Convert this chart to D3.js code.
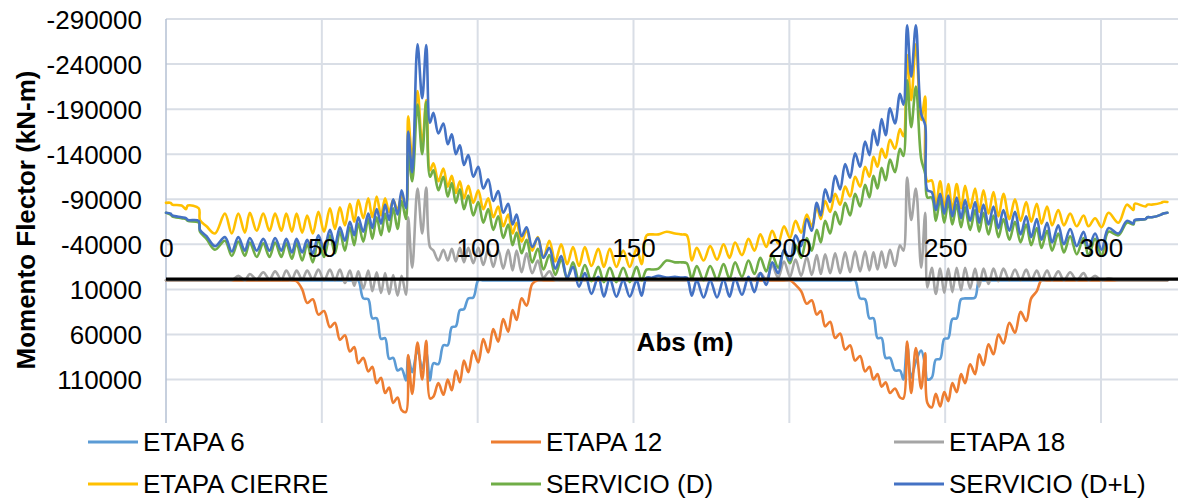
<!DOCTYPE html>
<html>
<head>
<meta charset="utf-8">
<script src="https://cdn.jsdelivr.net/npm/d3@7"></script>
<style>
  body { margin: 0; background: #ffffff; }
  svg text { font-family: "Liberation Sans", Arial, sans-serif; fill: #000; }
</style>
</head>
<body>
<svg id="chart" width="1182" height="500"></svg>
<script>
// Abscisa a lo largo del puente (m)
const abscisas = [
  0, 1.5, 2, 5, 6.4, 7, 10.5, 10.9, 13, 15.7,
  18.9, 21.1, 23.2, 25.3, 26.9, 29.1, 31.2, 33.2, 35, 37,
  38.6, 40.4, 41.9, 43.7, 45.3, 47.1, 48.9, 50.7, 52.6, 54.2,
  55.8, 57.4, 59, 60.4, 61.7, 63.3, 64.9, 66.2, 67.6, 69,
  70.3, 71.6, 72.9, 74.3, 75.6, 77, 77.7, 79, 80.7, 82.2,
  83.5, 84.7, 85.8, 87.4, 89, 90.4, 91.7, 93, 94.3, 95.6,
  97, 98.6, 100.2, 101.8, 103.4, 105, 106.6, 108.2, 109.8, 111.2,
  112.5, 114.1, 115.7, 117.5, 119.3, 121.1, 123, 124.9, 126.8, 128.7,
  130.6, 132.5, 134.4, 136.5, 138.7, 140.5, 142.4, 144.5, 146.7, 148.8,
  151, 152.6, 154.2, 156, 158, 160.65,
  163.3, 165.3, 167.1, 168.7, 170.3, 172.5, 174.6, 176.8, 178.9, 180.8,
  182.6, 184.8, 186.9, 188.8, 190.7, 192.6, 194.5, 196.4, 198.3, 200.2,
  202, 203.8, 205.6, 207.2, 208.8, 210.1, 211.5, 213.1, 214.7, 216.3,
  217.9, 219.5, 221.1, 222.7, 224.3, 225.7, 227, 228.3, 229.6, 230.9,
  232.3, 233.9, 235.5, 236.6, 237.8, 239.1, 240.6, 242.3, 243.6, 244.3,
  245.7, 247, 248.4, 249.7, 251, 252.3, 253.7, 255.1, 256.4, 258,
  259.6, 260.9, 262.3, 263.9, 265.5, 267.1, 268.7, 270.6, 272.4, 274.2,
  276, 277.6, 279.4, 280.9, 282.7, 284.3, 286.3, 288.1, 290.1, 292.2,
  294.4, 296, 298.1, 300.2, 302.4, 305.6, 308.3, 310.4, 310.8, 314.3,
  314.9, 316.3, 319.3, 319.8, 321.3
];

// Momento flector (kN-m) por etapa
const etapa6 = [
  0, 0, 0, 0, 0, 0, 0, 0, 0, 0,
  0, 0, 0, 0, 0, 0, 0, 0, 0, 0,
  0, 0, 0, 0, 0, 0, 0, 0, 0, 0,
  0, 0, 0, 0, 0, 20000, 21000, 42000, 42000, 65000,
  64000, 87000, 86000, 100000, 98000, 111000, 84000, 102000, 77000, 98000,
  80000, 111000, 92000, 93000, 72000, 72000, 52000, 51000, 33000, 32000,
  20000, 19000, 0, 0, 0, 0, 0, 0, 0, 0,
  0, 0, 0, 0, 0, 0, 0, 0, 0, 0,
  0, 0, 0, 0, 0, 0, 0, 0, 0, 0,
  0, 0, 0, 0, 0, 0,
  0, 0, 0, 0, 0, 0, 0, 0, 0, 0,
  0, 0, 0, 0, 0, 0, 0, 0, 0, 0,
  0, 0, 0, 0, 0, 0, 0, 0, 0, 0,
  0, 0, 0, 20000, 21000, 42000, 42000, 64000, 64000, 86000,
  86000, 100000, 100000, 110000, 72000, 108000, 90000, 78000, 95000, 110000,
  108000, 88000, 87000, 65000, 64000, 43000, 42000, 21000, 20000, 20000,
  19000, 0, 0, 0, 0, 0, 0, 0, 0, 0,
  0, 0, 0, 0, 0, 0, 0, 0, 0, 0,
  0, 0, 0, 0, 0, 0, 0, 0, 0, 0,
  0, 0, 0, 0, 0
];

const etapa12 = [
  0, 0, 0, 0, 0, 0, 0, 0, 0, 0,
  0, 0, 0, 0, 0, 0, 0, 0, 0, 0,
  0, 0, 1000, 10000, 25000, 21000, 38000, 34000, 52000, 47000,
  66000, 61000, 79000, 74000, 92000, 86000, 101000, 96000, 114000, 108000,
  125000, 119000, 136000, 130000, 144000, 146000, 83000, 126000, 69000, 110000,
  67000, 131000, 129000, 114000, 127000, 110000, 122000, 100000, 113000, 89000,
  102000, 78000, 91000, 65000, 80000, 54000, 68000, 43000, 57000, 33000,
  44000, 20000, 28000, 4000, 0, 0, 0, 0, 0, 0,
  0, 0, 0, 0, 0, 0, 0, 0, 0, 0,
  0, 0, 0, 0, 0, 0,
  0, 0, 0, 0, 0, 0, 0, 0, 0, 0,
  0, 0, 0, 0, 0, 0, 0, 0, 0, 0,
  5000, 12000, 26000, 22000, 38000, 34000, 51000, 46000, 64000, 59000,
  77000, 72000, 89000, 84000, 101000, 96000, 110000, 104000, 118000, 113000,
  125000, 120000, 130000, 131000, 68000, 125000, 75000, 120000, 81000, 136000,
  141000, 126000, 140000, 124000, 134000, 114000, 124000, 104000, 114000, 93000,
  104000, 82000, 94000, 71000, 82000, 60000, 70000, 47000, 58000, 35000,
  45000, 20000, 12000, 0, 0, 0, 0, 0, 0, 0,
  0, 0, 0, 0, 0, 0, 0, 0, 0, 0,
  0, 0, 0, 0, 0
];

const etapa18 = [
  0, 0, 0, 0, 0, 0, 0, 0, 0, 0,
  0, 0, -5000, 0, -7000, -1000, -9000, -1000, -10000, -1000,
  -11000, -1000, -11000, -1000, -11000, -1000, -12000, 0, -12000, 0,
  -12000, 3000, -11000, 6000, -10000, 9000, -11000, 12000, -9000, 14000,
  -8000, 15000, -6000, 17000, -5000, 16000, -70000, -14000, -102000, -52000,
  -103000, -37000, -33000, -22000, -34000, -22000, -35000, -21000, -36000, -20000,
  -36000, -19000, -36000, -17000, -35000, -15000, -34000, -13000, -34000, -11000,
  -33000, -9000, -30000, -8000, -22000, -3000, -10000, 0, 0, 0,
  0, 0, 0, 0, -3000, 0, 0, 0, 0, 0,
  0, 0, 0, 0, 0, 0,
  0, 0, 0, 0, 0, 0, 0, 0, 0, 0,
  0, 0, 0, 0, -8000, -1000, -16000, -3000, -21000, -4000,
  -23000, -5000, -26000, -6000, -28000, -7000, -29000, -8000, -30000, -8000,
  -31000, -9000, -32000, -10000, -32000, -11000, -31000, -12000, -32000, -14000,
  -34000, -16000, -39000, -33000, -114000, -67000, -102000, -14000, -75000, 8000,
  -14000, 15000, -13000, 14000, -13000, 13000, -14000, 11000, -14000, 9000,
  -13000, 7000, -13000, 4000, -13000, 1000, -13000, 0, -12000, 0,
  -12000, 0, -11000, 0, -11000, 0, -10000, 0, -9000, 0,
  -8000, 0, -5000, 0, -2000, 0, 0, 0, 0, 0,
  0, 0, 0, 0, 0
];

const etapaCierre = [
  -86000, -86000, -84000, -83000, -79000, -83000, -80000, -67000, -60000, -52000,
  -74000, -52000, -74000, -53000, -75000, -55000, -74000, -55000, -74000, -55000,
  -74000, -54000, -74000, -53000, -72000, -52000, -76000, -54000, -80000, -57000,
  -81000, -61000, -85000, -65000, -89000, -69000, -91000, -70000, -93000, -72000,
  -91000, -76000, -89000, -78000, -94000, -82000, -182000, -135000, -210000, -150000,
  -200000, -122000, -130000, -110000, -124000, -104000, -116000, -97000, -110000, -91000,
  -105000, -86000, -100000, -79000, -91000, -70000, -82000, -60000, -73000, -52000,
  -64000, -43000, -56000, -33000, -48000, -25000, -44000, -21000, -40000, -18000,
  -37000, -16000, -37000, -16000, -35000, -15000, -35000, -15000, -33000, -15000,
  -35000, -18000, -50000, -51000, -51000, -54000,
  -52000, -51000, -50000, -22000, -36000, -22000, -38000, -23000, -40000, -25000,
  -42000, -28000, -46000, -33000, -51000, -37000, -55000, -41000, -60000, -47000,
  -66000, -53000, -73000, -60000, -81000, -68000, -88000, -76000, -96000, -84000,
  -104000, -93000, -115000, -104000, -126000, -115000, -137000, -126000, -146000, -136000,
  -156000, -146000, -168000, -160000, -250000, -200000, -262000, -178000, -204000, -110000,
  -111000, -82000, -110000, -80000, -107000, -78000, -107000, -80000, -105000, -80000,
  -102000, -76000, -100000, -74000, -98000, -71000, -96000, -68000, -90000, -66000,
  -87000, -65000, -85000, -63000, -82000, -61000, -78000, -61000, -74000, -60000,
  -72000, -60000, -69000, -59000, -75000, -64000, -84000, -78000, -85000, -82000,
  -84000, -84000, -86000, -87000, -87000
];

const servicioD = [
  -75000, -73000, -71000, -69000, -68000, -66000, -64000, -54000, -46000, -34000,
  -44000, -27000, -43000, -27000, -42000, -26000, -41000, -26000, -42000, -26000,
  -41000, -24000, -41000, -22000, -40000, -20000, -45000, -26000, -50000, -30000,
  -54000, -33000, -59000, -39000, -63000, -43000, -68000, -46000, -70000, -50000,
  -74000, -54000, -80000, -57000, -88000, -68000, -140000, -110000, -195000, -140000,
  -198000, -115000, -122000, -100000, -115000, -93000, -108000, -86000, -101000, -79000,
  -94000, -72000, -87000, -64000, -79000, -56000, -71000, -47000, -62000, -39000,
  -53000, -30000, -45000, -20000, -35000, -12000, -28000, -6000, -23000, -2000,
  -20000, 0, -17000, 1000, -15000, 2000, -14000, 2000, -14000, 2000,
  -15000, 0, -12000, -12000, -13000, -22000,
  -20000, -20000, -19000, -2000, -16000, 0, -16000, -1000, -18000, -2000,
  -20000, -4000, -22000, -7000, -25000, -10000, -28000, -14000, -33000, -19000,
  -39000, -25000, -47000, -33000, -56000, -42000, -66000, -52000, -76000, -62000,
  -86000, -72000, -96000, -82000, -106000, -92000, -116000, -102000, -125000, -111000,
  -134000, -120000, -146000, -138000, -222000, -170000, -215000, -135000, -118000, -92000,
  -92000, -66000, -90000, -64000, -87000, -62000, -84000, -59000, -81000, -56000,
  -78000, -54000, -75000, -51000, -72000, -48000, -68000, -45000, -65000, -42000,
  -62000, -39000, -58000, -36000, -55000, -33000, -52000, -31000, -49000, -29000,
  -47000, -27000, -46000, -27000, -54000, -50000, -64000, -62000, -66000, -68000,
  -70000, -70000, -73000, -74000, -75000
];

const servicioDL = [
  -75000, -74000, -72000, -70000, -69000, -67000, -66000, -56000, -49000, -38000,
  -48000, -32000, -48000, -33000, -47000, -33000, -46000, -33000, -47000, -33000,
  -46000, -31000, -46000, -31000, -45000, -30000, -50000, -35000, -56000, -39000,
  -59000, -44000, -65000, -50000, -70000, -54000, -74000, -58000, -79000, -63000,
  -84000, -67000, -90000, -73000, -100000, -80000, -165000, -120000, -262000, -202000,
  -261000, -175000, -186000, -163000, -174000, -151000, -162000, -140000, -150000, -128000,
  -139000, -115000, -126000, -102000, -112000, -88000, -99000, -75000, -85000, -62000,
  -73000, -49000, -59000, -37000, -47000, -25000, -36000, -13000, -27000, -3000,
  -15000, 7000, -8000, 15000, -4000, 18000, -2000, 18000, 0, 18000,
  0, 17000, -3000, -3000, -5000, -3000,
  -4000, -3000, -3000, 17000, 0, 19000, 0, 19000, -1000, 18000,
  -2000, 16000, -4000, 13000, -8000, 5000, -20000, -8000, -34000, -22000,
  -50000, -38000, -68000, -55000, -86000, -72000, -101000, -87000, -116000, -101000,
  -129000, -114000, -141000, -126000, -154000, -139000, -167000, -150000, -179000, -161000,
  -191000, -174000, -207000, -195000, -283000, -226000, -283000, -185000, -172000, -100000,
  -98000, -78000, -96000, -74000, -94000, -71000, -92000, -69000, -89000, -66000,
  -87000, -64000, -84000, -62000, -82000, -58000, -78000, -55000, -76000, -51000,
  -71000, -48000, -68000, -45000, -64000, -42000, -61000, -40000, -57000, -38000,
  -54000, -36000, -52000, -34000, -58000, -52000, -66000, -63000, -67000, -68000,
  -70000, -70000, -73000, -74000, -75000
];

const nombresSeries = ["ETAPA 6", "ETAPA 12", "ETAPA 18", "ETAPA CIERRE", "SERVICIO (D)", "SERVICIO (D+L)"];
const coloresSeries = ["#5B9BD5", "#ED7D31", "#A5A5A5", "#FFC000", "#70AD47", "#4472C4"];
const valoresSeries = [etapa6, etapa12, etapa18, etapaCierre, servicioD, servicioDL];

const xTicks = [0, 50, 100, 150, 200, 250, 300];
const yTicks = [-290000, -240000, -190000, -140000, -90000, -40000, 10000, 60000, 110000];

// ---- dibujo ----
const svg = d3.select("#chart");
const plotLeft = 166, plotRight = 1178, plotTop = 19, plotBottom = 423;

const x = d3.scaleLinear().domain([0, 300]).range([166, 1101]);
const y = d3.scaleLinear().domain([-290000, 110000]).range([19, 379.5]);

// números con guion simple, sin separador de miles
const fmtNum = d => String(d);

// cuadrícula
const grid = svg.append("g");
grid.selectAll("line.h").data(yTicks).join("line")
  .attr("x1", plotLeft).attr("x2", plotRight)
  .attr("y1", d => y(d)).attr("y2", d => y(d))
  .attr("stroke", "#d9dee6").attr("stroke-width", 2);
grid.selectAll("line.v").data(xTicks.filter(d => d !== 0)).join("line")
  .attr("x1", d => x(d)).attr("x2", d => x(d))
  .attr("y1", plotTop).attr("y2", plotBottom)
  .attr("stroke", "#d9dee6").attr("stroke-width", 2);

// eje vertical
svg.append("line")
  .attr("x1", x(0)).attr("x2", x(0))
  .attr("y1", plotTop).attr("y2", plotBottom)
  .attr("stroke", "#b4c0d3").attr("stroke-width", 1.5);

// series
const linea = d3.line()
  .x((d, i) => x(abscisas[i]))
  .y(d => y(d))
  .curve(d3.curveCatmullRom.alpha(0.5));

const gSeries = svg.append("g").attr("fill", "none")
  .attr("stroke-linejoin", "round").attr("stroke-linecap", "round");
valoresSeries.forEach((vals, k) => {
  gSeries.append("path")
    .attr("d", linea(vals))
    .attr("stroke", coloresSeries[k])
    .attr("stroke-width", 2.6);
});

// eje horizontal (momento nulo)
svg.append("line")
  .attr("x1", plotLeft).attr("x2", plotRight)
  .attr("y1", y(0) - 1.2).attr("y2", y(0) - 1.2)
  .attr("stroke", "#000").attr("stroke-width", 3.4);

// etiquetas del eje Y
const ejeY = svg.append("g").attr("transform", `translate(${plotLeft},0)`)
  .call(d3.axisLeft(y).tickValues(yTicks).tickFormat(fmtNum).tickSize(0).tickPadding(24));
ejeY.select(".domain").remove();
ejeY.selectAll("text")
  .style("font-family", '"Liberation Sans", Arial, sans-serif')
  .style("font-size", "26px").attr("fill", "#000").attr("dy", "0.36em");

// etiquetas del eje X
const ejeX = svg.append("g").attr("transform", "translate(0,248)")
  .call(d3.axisBottom(x).tickValues(xTicks).tickFormat(fmtNum).tickSize(0).tickPadding(0));
ejeX.select(".domain").remove();
ejeX.selectAll("text")
  .style("font-family", '"Liberation Sans", Arial, sans-serif')
  .style("font-size", "26px").attr("fill", "#000")
  .attr("y", 0).attr("dy", "0.36em");

// títulos de ejes
svg.append("text")
  .attr("transform", "translate(35,220) rotate(-90)")
  .attr("text-anchor", "middle")
  .style("font-size", "26px").style("font-weight", "bold")
  .text("Momento Flector (kN-m)");

svg.append("text")
  .attr("x", 685).attr("y", 342).attr("dy", "0.36em")
  .attr("text-anchor", "middle")
  .style("font-size", "26px").style("font-weight", "bold")
  .text("Abs (m)");

// leyenda
const colX = [88, 491, 894];
const filaY = [442, 484];
const leyenda = svg.append("g");
nombresSeries.forEach((nombre, k) => {
  const cx = colX[k % 3], cy = filaY[Math.floor(k / 3)];
  leyenda.append("line")
    .attr("x1", cx).attr("x2", cx + 50)
    .attr("y1", cy).attr("y2", cy)
    .attr("stroke", coloresSeries[k]).attr("stroke-width", 3);
  leyenda.append("text")
    .attr("x", cx + 55).attr("y", cy).attr("dy", "0.36em")
    .style("font-size", "26px")
    .text(nombre);
});
</script>
</body>
</html>
